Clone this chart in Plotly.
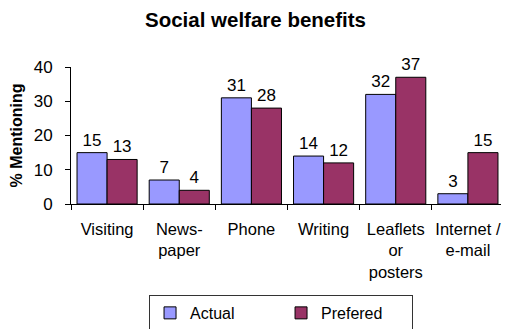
import plotly.graph_objects as go

categories = ["Visiting", "News-<br>paper", "Phone", "Writing", "Leaflets<br>or<br>posters", "Internet /<br>e-mail"]
actual = [15, 7, 31, 14, 32, 3]
prefered = [13, 4, 28, 12, 37, 15]
y_ticks = [0, 10, 20, 30, 40]

FONT = "Arial, Liberation Sans, sans-serif"

fig = go.Figure()
fig.add_trace(go.Bar(x=categories, y=actual, name="Actual", marker=dict(color="#9999FF", line=dict(color="black", width=1)),
                     text=actual, textposition="outside", textfont=dict(size=17, color="black"), cliponaxis=False))
fig.add_trace(go.Bar(x=categories, y=prefered, name="Prefered", marker=dict(color="#993366", line=dict(color="black", width=1)),
                     text=prefered, textposition="outside", textfont=dict(size=17, color="black"), cliponaxis=False))

# page body has an 8px margin, so figure coordinates are offset by 8px in the window
fig.update_layout(
    width=501, height=321,
    margin=dict(l=63, r=5, t=59, b=125),
    paper_bgcolor="white", plot_bgcolor="white",
    font=dict(family=FONT, size=16, color="black"),
    title=dict(text="<b>Social welfare benefits</b>", x=0.494, xanchor="center", y=0.962, yanchor="middle",
               font=dict(size=20.5, color="black")),
    barmode="group", bargap=0.167, bargroupgap=0,
    showlegend=True,
    legend=dict(orientation="h", xref="container", yref="container", x=0.545, xanchor="center",
                y=0.106, yanchor="top",
                bordercolor="#333333", borderwidth=1, font=dict(size=16),
                entrywidth=86, itemwidth=30),
)
fig.update_xaxes(showline=True, linecolor="black", linewidth=1, ticks="outside", tickson="boundaries",
                 ticklen=5, tickcolor="black", showgrid=False, tickfont=dict(size=16.5), automargin=False,
                 tickangle=0, ticklabelstandoff=10)
fig.update_yaxes(range=[0, 40], tickvals=y_ticks, showline=True, linecolor="black", linewidth=1,
                 ticks="outside", ticklen=5, tickcolor="black", showgrid=False, zeroline=False,
                 tickfont=dict(size=17), automargin=False, ticklabelstandoff=9,
                 title=dict(text="<b>% Mentioning</b>", font=dict(size=16)))

fig.write_html("out.html")
